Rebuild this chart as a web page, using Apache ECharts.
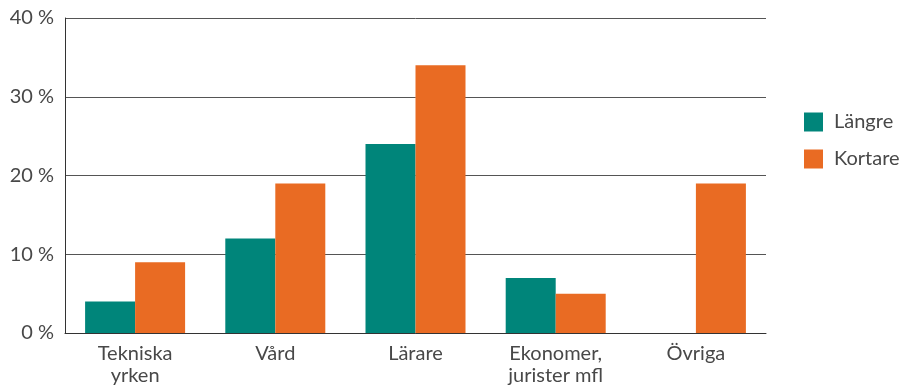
<!DOCTYPE html>
<html><head><meta charset="utf-8">
<script src="https://cdn.jsdelivr.net/npm/echarts@6/dist/echarts.min.js"></script>
<style>html,body{margin:0;padding:0;background:#fff}#c{width:908px;height:389px}</style>
</head><body><div id="c"></div>
<script>
const categories = ['Tekniska\nyrken', 'Vård', 'Lärare', 'Ekonomer,\njurister mfl', 'Övriga'];
const langre = [4, 12, 24, 7, 0];
const kortare = [9, 19, 34, 5, 19];
const yTicks = [0, 10, 20, 30, 40];

const chart = echarts.init(document.getElementById('c'));
const font = 'Lato, "Open Sans", sans-serif';
chart.setOption({
  animation: false,
  textStyle: { fontFamily: font },
  grid: { left: 65, right: 142, top: 18, bottom: 56 },
  legend: {
    orient: 'vertical', left: 804, top: 112, padding: 0,
    itemWidth: 19, itemHeight: 19, itemGap: 17,
    icon: 'rect',
    textStyle: { fontSize: 20, color: '#484848', fontFamily: font, padding: [0, 0, 0, 6] },
    data: ['Längre', 'Kortare']
  },
  xAxis: {
    type: 'category', data: categories,
    axisLine: { lineStyle: { color: '#333', width: 1 } },
    axisTick: { show: false },
    axisLabel: { fontSize: 20, color: '#484848', lineHeight: 22, margin: 10, fontFamily: font }
  },
  yAxis: {
    type: 'value', min: yTicks[0], max: yTicks[yTicks.length - 1], interval: 10,
    axisLine: { show: true, lineStyle: { color: '#333', width: 1 } },
    axisTick: { show: false },
    splitLine: { lineStyle: { color: '#555', width: 1 } },
    axisLabel: { formatter: '{value} %', fontSize: 20, color: '#484848', margin: 11, fontFamily: font }
  },
  series: [
    { name: 'Längre', type: 'bar', data: langre, barWidth: 50, barGap: '0%', itemStyle: { color: '#00857A' } },
    { name: 'Kortare', type: 'bar', data: kortare, barWidth: 50, barGap: '0%', itemStyle: { color: '#E96B23' } }
  ]
});
</script></body></html>
